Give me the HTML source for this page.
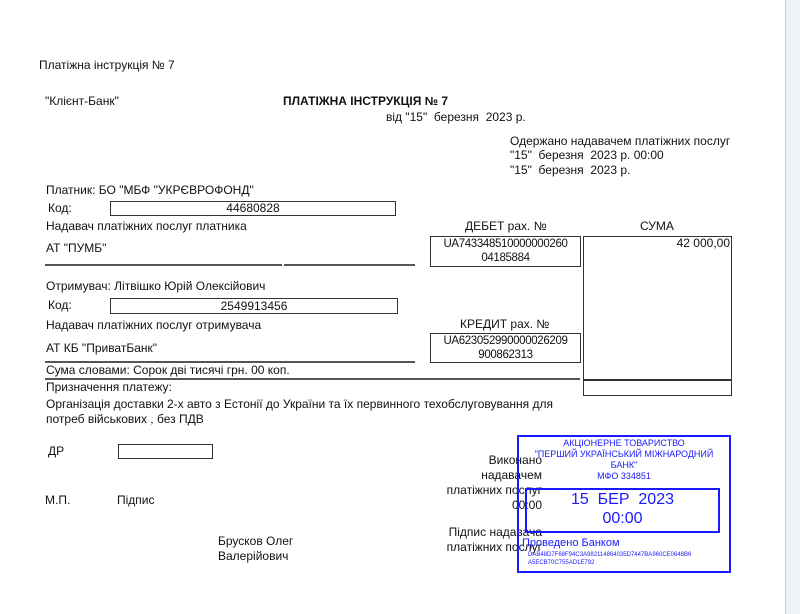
<!DOCTYPE html>
<html><head><meta charset="utf-8"><style>
*{margin:0;padding:0;box-sizing:border-box}
body{width:800px;height:614px;background:#fff;position:relative;overflow:hidden;font-family:"Liberation Sans",Arial,sans-serif;color:#111}
.t{position:absolute;white-space:nowrap;font-size:12px;line-height:14px}
.b{position:absolute;border:1px solid #333}
.l{position:absolute;height:2px;background:#555}
.s{position:absolute;color:#1a1aff;white-space:nowrap;text-align:center}
</style></head><body>
<div style="position:absolute;left:785px;top:0;width:15px;height:614px;background:#eef2f9;border-left:1px solid #c8ccd4"></div>

<div class="t" style="left:39px;top:58px">Платіжна інструкція № 7</div>
<div class="t" style="left:45px;top:94px">"Клієнт-Банк"</div>
<div class="t" style="left:283px;top:94px;font-weight:bold">ПЛАТІЖНА ІНСТРУКЦІЯ № 7</div>
<div class="t" style="left:386px;top:110px">від "15"&nbsp; березня&nbsp; 2023 р.</div>
<div class="t" style="left:510px;top:134px">Одержано надавачем платіжних послуг</div>
<div class="t" style="left:510px;top:148px">"15"&nbsp; березня&nbsp; 2023 р. 00:00</div>
<div class="t" style="left:510px;top:163px">"15"&nbsp; березня&nbsp; 2023 р.</div>

<div class="t" style="left:46px;top:183px">Платник: БО "МБФ "УКРЄВРОФОНД"</div>
<div class="t" style="left:48px;top:201px">Код:</div>
<div class="b" style="left:110px;top:201px;width:286px;height:15px"></div>
<div class="t" style="left:110px;top:201px;width:286px;text-align:center">44680828</div>
<div class="t" style="left:46px;top:219px">Надавач платіжних послуг платника</div>
<div class="t" style="left:465px;top:219px">ДЕБЕТ рах. №</div>
<div class="t" style="left:640px;top:219px">СУМА</div>
<div class="t" style="left:46px;top:241px">АТ "ПУМБ"</div>
<div class="b" style="left:430px;top:236px;width:151px;height:31px"></div>
<div class="t" style="left:430px;top:237px;width:151px;text-align:center;font-size:11.5px;letter-spacing:-0.35px">UA743348510000000260<br>04185884</div>
<div class="b" style="left:583px;top:236px;width:149px;height:144px"></div>
<div class="t" style="left:583px;top:236px;width:147px;text-align:right">42 000,00</div>
<div class="l" style="left:45px;top:264px;width:237px"></div>
<div class="l" style="left:284px;top:264px;width:131px"></div>

<div class="t" style="left:46px;top:279px">Отримувач: Літвішко Юрій Олексійович</div>
<div class="t" style="left:48px;top:298px">Код:</div>
<div class="b" style="left:110px;top:298px;width:288px;height:16px"></div>
<div class="t" style="left:110px;top:299px;width:288px;text-align:center">2549913456</div>
<div class="t" style="left:46px;top:318px">Надавач платіжних послуг отримувача</div>
<div class="t" style="left:460px;top:317px">КРЕДИТ рах. №</div>
<div class="t" style="left:46px;top:341px">АТ КБ "ПриватБанк"</div>
<div class="b" style="left:430px;top:333px;width:151px;height:30px"></div>
<div class="t" style="left:430px;top:334px;width:151px;text-align:center;font-size:11.5px;letter-spacing:-0.35px">UA623052990000026209<br>900862313</div>
<div class="l" style="left:45px;top:361px;width:370px"></div>
<div class="t" style="left:46px;top:363px">Сума словами: Сорок дві тисячі грн. 00 коп.</div>
<div class="l" style="left:45px;top:378px;width:535px"></div>
<div class="b" style="left:583px;top:380px;width:149px;height:16px"></div>
<div class="t" style="left:46px;top:380px">Призначення платежу:</div>
<div class="t" style="left:46px;top:397px">Організація доставки 2-х авто з Естонії до України та їх первинного техобслуговування для</div>
<div class="t" style="left:46px;top:412px">потреб військових , без ПДВ</div>

<div class="t" style="left:48px;top:444px">ДР</div>
<div class="b" style="left:118px;top:444px;width:95px;height:15px"></div>
<div class="t" style="left:45px;top:493px">М.П.</div>
<div class="t" style="left:117px;top:493px">Підпис</div>
<div class="t" style="left:218px;top:534px">Брусков Олег</div>
<div class="t" style="left:218px;top:549px">Валерійович</div>

<div class="t" style="left:400px;top:453px;width:142px;text-align:right;line-height:15px">Виконано<br>надавачем<br>платіжних послуг<br>00:00</div>
<div class="t" style="left:400px;top:525px;width:142px;text-align:right;line-height:15px">Підпис надавача<br>платіжних послуг</div>

<div style="position:absolute;left:517px;top:435px;width:214px;height:138px;border:2px solid #1a1aff"></div>
<div class="s" style="left:517px;top:438px;width:214px;font-size:9px;line-height:11px">АКЦІОНЕРНЕ ТОВАРИСТВО<br>"ПЕРШИЙ УКРАЇНСЬКИЙ МІЖНАРОДНИЙ<br>БАНК"<br>МФО 334851</div>
<div style="position:absolute;left:525px;top:488px;width:195px;height:45px;border:2px solid #1a1aff"></div>
<div class="s" style="left:525px;top:490px;width:195px;font-size:16px;line-height:19px">15&nbsp; БЕР&nbsp; 2023<br>00:00</div>
<div class="s" style="left:522px;top:537px;font-size:11px;line-height:12px;text-align:left">Проведено Банком</div>
<div class="s" style="left:528px;top:551px;font-size:6px;line-height:8px;text-align:left">DAB48D7F68F94C3A982114864035D7447BA960CE0648B6<br>A5ECB70C755AD1E792</div>
</body></html>
